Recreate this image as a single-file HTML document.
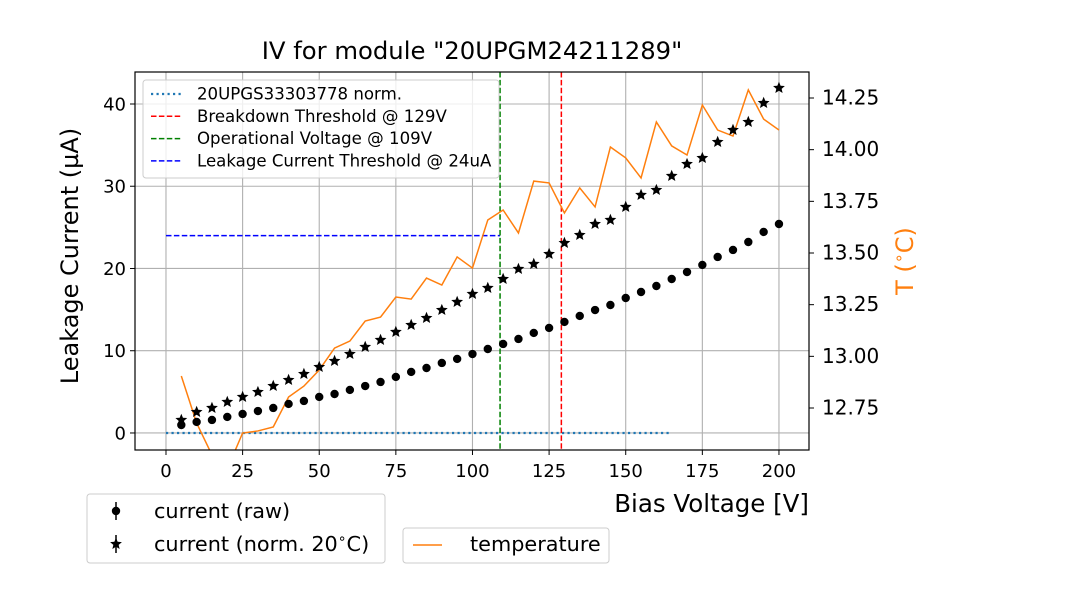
<!DOCTYPE html>
<html><head><meta charset="utf-8"><style>
body{margin:0;background:#fff;}
svg text{font-family:"DejaVu Sans","Liberation Sans",sans-serif;}
</style></head><body>
<svg id="chart" width="1080" height="600" xmlns="http://www.w3.org/2000/svg">
<rect width="1080" height="600" fill="#fff"/>
<g id="grid"></g>
<g id="marks"></g>
<g id="axes"></g>
<g id="legends"></g>
</svg>
<script>
const voltages=[5,10,15,20,25,30,35,40,45,50,55,60,65,70,75,80,85,90,95,100,105,110,115,120,125,130,135,140,145,150,155,160,165,170,175,180,185,190,195,200];
const currentRaw=[0.97,1.34,1.58,1.95,2.31,2.67,3.04,3.53,3.89,4.38,4.74,5.23,5.71,6.20,6.81,7.42,7.90,8.51,9.00,9.60,10.21,10.82,11.43,12.16,12.77,13.50,14.23,14.95,15.56,16.41,17.14,17.87,18.72,19.57,20.43,21.40,22.25,23.22,24.44,25.41];
const currentNorm=[1.58,2.55,3.04,3.77,4.38,4.98,5.71,6.44,7.17,8.02,8.75,9.60,10.46,11.31,12.28,13.13,13.98,14.95,15.93,16.90,17.63,18.72,19.94,20.55,21.76,23.10,24.07,25.41,25.90,27.48,28.94,29.54,31.25,32.70,33.43,35.38,36.84,37.81,40.12,41.95];
const temperature=[12.905,12.677,12.523,12.455,12.629,12.639,12.658,12.803,12.856,12.934,13.040,13.074,13.171,13.190,13.287,13.277,13.379,13.345,13.481,13.427,13.660,13.708,13.597,13.848,13.839,13.694,13.815,13.723,14.013,13.960,13.863,14.134,14.018,13.974,14.216,14.095,14.066,14.289,14.148,14.095];
const xTicks=[0,25,50,75,100,125,150,175,200];
const yTicks=[0,10,20,30,40];
const tTicks=[12.75,13.00,13.25,13.50,13.75,14.00,14.25];
const breakdownV=129, operationalV=109, leakageThr=24, normLineEnd=165;

const L=135,R=809,T=72,B=450;
const xMin=-10.11,xMax=209.8,yMin=-2.07,yMax=43.89,tMin=12.5468,tMax=14.3758;
const X=v=>L+(v-xMin)/(xMax-xMin)*(R-L);
const Y=v=>B-(v-yMin)/(yMax-yMin)*(B-T);
const YT=v=>B-(v-tMin)/(tMax-tMin)*(B-T);
const NS="http://www.w3.org/2000/svg";
function mk(parent,tag,attrs,txt){const e=document.createElementNS(NS,tag);for(const k in attrs)e.setAttribute(k,attrs[k]);if(txt!==undefined)e.textContent=txt;document.getElementById(parent).appendChild(e);return e;}

xTicks.forEach(v=>{const e=mk('grid','line',{x1:X(v),x2:X(v),y1:T,y2:B,stroke:'#b0b0b0','stroke-width':1.1});

});
yTicks.forEach(v=>{const e=mk('grid','line',{x1:L,x2:R,y1:Y(v),y2:Y(v),stroke:'#b0b0b0','stroke-width':1.1});

});

let e;
e=mk('marks','line',{x1:X(0),x2:X(normLineEnd),y1:Y(0),y2:Y(0),stroke:'#1f77b4','stroke-width':2.2,'stroke-dasharray':'2.2,3.3'});


e=mk('marks','line',{x1:X(0),x2:X(operationalV),y1:Y(leakageThr),y2:Y(leakageThr),stroke:'#0000ff','stroke-width':1.5,'stroke-dasharray':'5.5,2.4'});


e=mk('marks','line',{x1:X(breakdownV),x2:X(breakdownV),y1:T,y2:B,stroke:'#ff0000','stroke-width':1.5,'stroke-dasharray':'5.5,2.4'});


e=mk('marks','line',{x1:X(operationalV),x2:X(operationalV),y1:T,y2:B,stroke:'#008000','stroke-width':1.5,'stroke-dasharray':'5.5,2.4'});



mk('chart','clipPath',{id:'plotclip'});
const cr=document.createElementNS(NS,'rect');cr.setAttribute('x',L);cr.setAttribute('y',T);cr.setAttribute('width',R-L);cr.setAttribute('height',B-T);
document.getElementById('plotclip').appendChild(cr);
e=mk('marks','polyline',{points:voltages.map((v,i)=>X(v)+','+YT(temperature[i])).join(' '),fill:'none',stroke:'#ff7f0e','stroke-width':1.5,'clip-path':'url(#plotclip)'});



function star(cx,cy,r){let p=[];for(let i=0;i<10;i++){const a=-Math.PI/2+i*Math.PI/5;const rr=i%2?r*0.45:r;p.push((cx+rr*Math.cos(a)).toFixed(2)+','+(cy+rr*Math.sin(a)).toFixed(2));}return p.join(' ');}
voltages.forEach((v,i)=>{
 const c=mk('marks','circle',{cx:X(v),cy:Y(currentRaw[i]),r:4.2,fill:'#000'});
 
 
 const s=mk('marks','polygon',{points:star(X(v),Y(currentNorm[i]),6.2),fill:'#000'});
 
 
});

e=mk('axes','rect',{x:L,y:T,width:R-L,height:B-T,fill:'none',stroke:'#000','stroke-width':1.2});


xTicks.forEach(v=>{mk('axes','line',{x1:X(v),x2:X(v),y1:B,y2:B+5,stroke:'#000'});
 const t=mk('axes','text',{x:X(v),y:B+27,'text-anchor':'middle','font-size':18},String(v));
 
 });
yTicks.forEach(v=>{mk('axes','line',{x1:L-5,x2:L,y1:Y(v),y2:Y(v),stroke:'#000'});
 const t=mk('axes','text',{x:L-9,y:Y(v)+6.5,'text-anchor':'end','font-size':18},String(v));
 
 });
tTicks.forEach(v=>{mk('axes','line',{x1:R,x2:R+5,y1:YT(v),y2:YT(v),stroke:'#000'});
 const t=mk('axes','text',{x:R+13,y:YT(v)+6.5,'font-size':20},v.toFixed(2));
 
 });
e=mk('axes','text',{x:472,y:59,'text-anchor':'middle','font-size':24.3},'IV for module "20UPGM24211289"');


e=mk('axes','text',{x:809,y:512,'text-anchor':'end','font-size':24.5},'Bias Voltage [V]');


e=mk('axes','text',{x:0,y:0,'text-anchor':'middle','font-size':24,transform:'translate(78,256) rotate(-90)'},'Leakage Current (µA)');


e=mk('axes','text',{x:0,y:0,'text-anchor':'middle','font-size':24,fill:'#ff7f0e',transform:'translate(913,261) rotate(-90)'});
e.innerHTML='T (<tspan font-size="16" dy="-9">∘</tspan><tspan dy="9">C)</tspan>';



e=mk('legends','rect',{x:143,y:80,width:356,height:98,rx:3,fill:'#fff','fill-opacity':0.8,stroke:'#ccc'});


const leg=[['20UPGS33303778 norm.','#1f77b4','2.2,3.3',2.2],['Breakdown Threshold @ 129V','#ff0000','5.5,2.4',1.5],['Operational Voltage @ 109V','#008000','5.5,2.4',1.5],['Leakage Current Threshold @ 24uA','#0000ff','5.5,2.4',1.5]];
leg.forEach((l,i)=>{const y=94+i*22.3;
 mk('legends','line',{x1:151,x2:181,y1:y,y2:y,stroke:l[1],'stroke-width':l[3],'stroke-dasharray':l[2]});
 const t=mk('legends','text',{x:197,y:y+5.5,'font-size':16.6},l[0]);
 
 });

e=mk('legends','rect',{x:87,y:494,width:298,height:69,rx:3,fill:'#fff',stroke:'#ccc'});


mk('legends','line',{x1:116,x2:116,y1:502,y2:520,stroke:'#000','stroke-width':1.5});
mk('legends','circle',{cx:116,cy:511,r:4.2,fill:'#000'});
e=mk('legends','text',{x:154,y:518,'font-size':20.8},'current (raw)');


mk('legends','line',{x1:116,x2:116,y1:535,y2:553,stroke:'#000','stroke-width':1.5});
mk('legends','polygon',{points:star(116,544,6.2),fill:'#000'});
e=mk('legends','text',{x:154,y:551,'font-size':20.8});
e.innerHTML='current (norm. 20<tspan font-size="14" dy="-8">∘</tspan><tspan dy="8">C)</tspan>';


e=mk('legends','rect',{x:403,y:528,width:206,height:35,rx:3,fill:'#fff',stroke:'#ccc'});


mk('legends','line',{x1:413,x2:442,y1:545,y2:545,stroke:'#ff7f0e','stroke-width':1.5});
e=mk('legends','text',{x:470,y:551,'font-size':20.8},'temperature');


</script>
</body></html>
